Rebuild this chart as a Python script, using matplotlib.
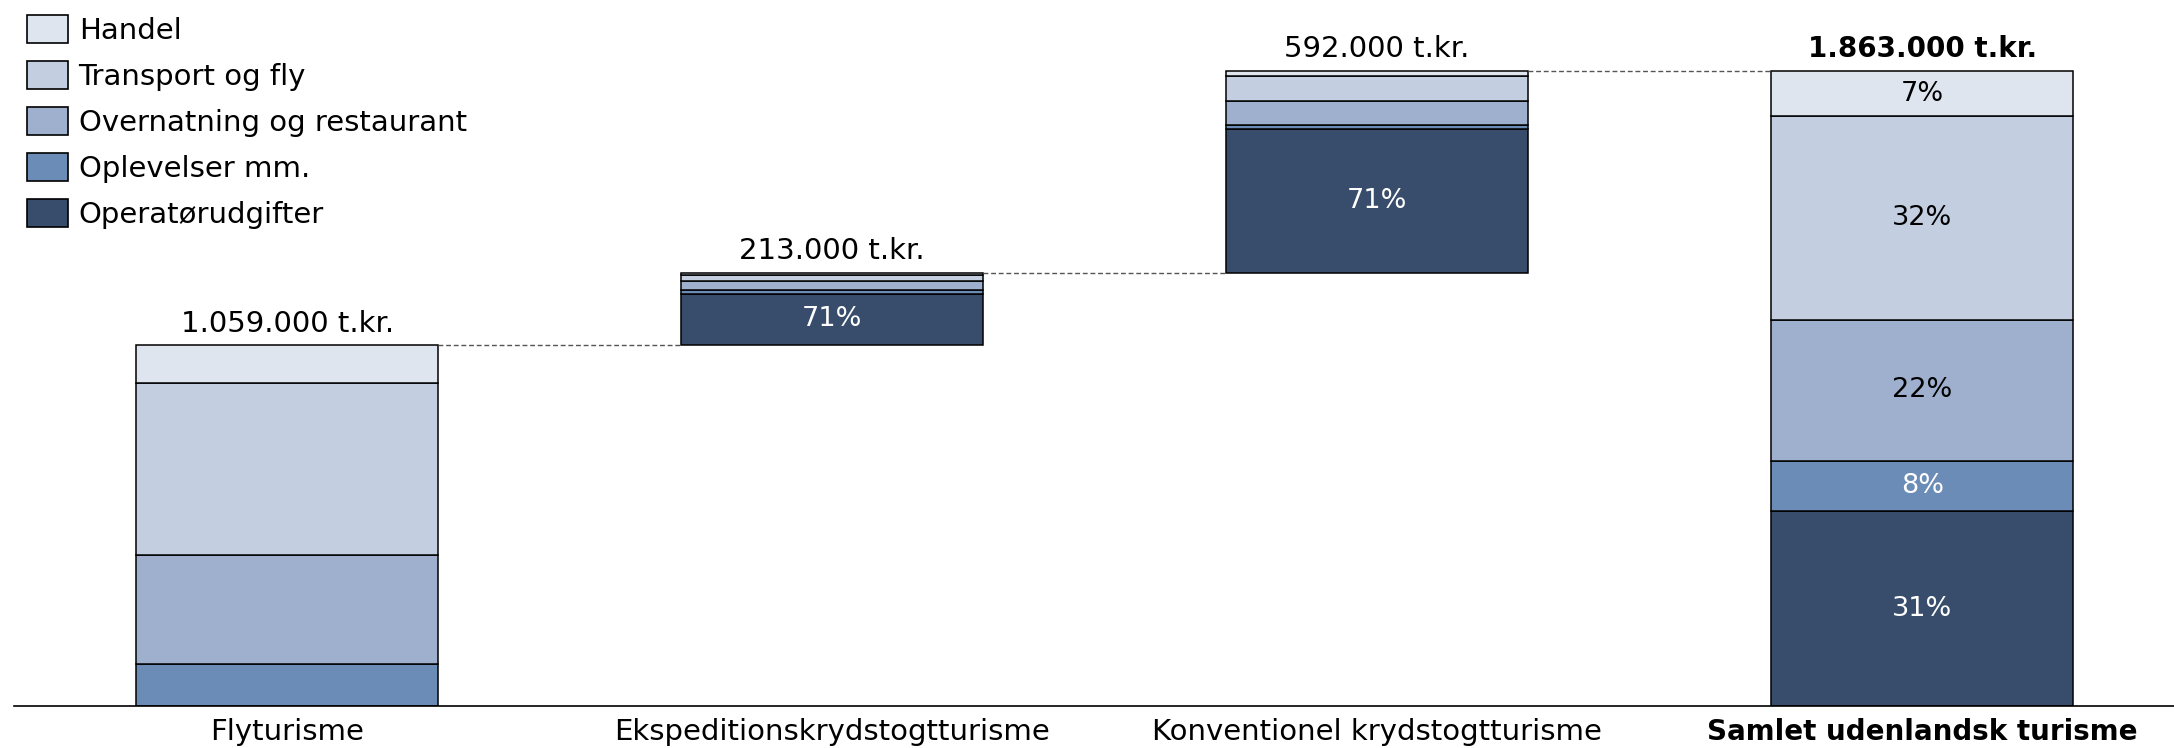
import numpy as np
import matplotlib.pyplot as plt
from matplotlib.patches import Patch

# data (t.kr.)
bars = ['Flyturisme', 'Ekspeditionskrydstogtturisme', 'Konventionel krydstogtturisme',
        'Samlet udenlandsk turisme']
cats = ['Operatørudgifter', 'Oplevelser mm.', 'Overnatning og restaurant', 'Transport og fly', 'Handel']
colors = ['#384d6c', '#6c8cb8', '#9eb0ce', '#c3cee0', '#dee5ef']
pct_color = ['white', 'white', 'black', 'black', 'black']

fly = [0, 124, 318, 505, 112]
eksp = [151, 11, 25, 20, 6]
konv = [420, 13, 72, 72, 15]
totals_txt = ['1.059.000 t.kr.', '213.000 t.kr.', '592.000 t.kr.', '1.863.000 t.kr.']

samlet = [a + b + c for a, b, c in zip(fly, eksp, konv)]
stacks = [fly, eksp, konv, samlet]
# which segments get a percentage label
show_pct = [[], [0], [0], [0, 1, 2, 3, 4]]

plt.rcParams['font.family'] = 'DejaVu Sans'
fig = plt.figure(figsize=(21.74, 7.48), dpi=100)
ax = fig.add_axes([14 / 2174, 42 / 748, 1 - 14 / 2174, 706 / 748])

x = np.arange(len(bars))
w = 0.555
base = [0, sum(fly), sum(fly) + sum(eksp), 0]

for i, seg in enumerate(stacks):
    bottom = base[i]
    tot = sum(seg)
    for j, v in enumerate(seg):
        if v > 0:
            ax.bar(x[i], v, w, bottom=bottom, color=colors[j], edgecolor='black', linewidth=1.1)
            if j in show_pct[i]:
                ax.text(x[i], bottom + v / 2, f'{round(100 * v / tot)}%', ha='center', va='center',
                        fontsize=19.5, color=pct_color[j])
        bottom += v
    ax.text(x[i], bottom + 22, totals_txt[i], ha='center', va='bottom',
            fontsize=20 if i == 3 else 21, fontweight='bold' if i == 3 else 'normal')

# connectors
for i in range(3):
    top = base[i] + sum(stacks[i])
    ax.plot([x[i] + w / 2, x[i + 1] - w / 2], [top, top], ls=(0, (3.5, 2)), color='#555555', lw=1.0)

ax.set_xlim(-0.501, 3.462)
ax.set_ylim(0, 2072)
ax.set_xticks(x)
ax.set_xticklabels(bars, fontsize=21)
ax.get_xticklabels()[3].set_fontweight('bold')
ax.get_xticklabels()[3].set_fontsize(20)
ax.tick_params(axis='x', length=0, pad=9)
ax.set_yticks([])
for s in ['top', 'right', 'left']:
    ax.spines[s].set_visible(False)
ax.spines['bottom'].set_linewidth(1.2)

handles = [Patch(facecolor=colors[j], edgecolor='black', linewidth=1.2, label=cats[j]) for j in range(4, -1, -1)]
fig.legend(handles=handles, loc='upper left', bbox_to_anchor=(27 / 2174, 1 - 15 / 748), frameon=False,
           fontsize=21, handlelength=1.42, handleheight=1.1, labelspacing=0.55, handletextpad=0.35,
           borderpad=0, borderaxespad=0)

fig.savefig('out.png', dpi=100)
